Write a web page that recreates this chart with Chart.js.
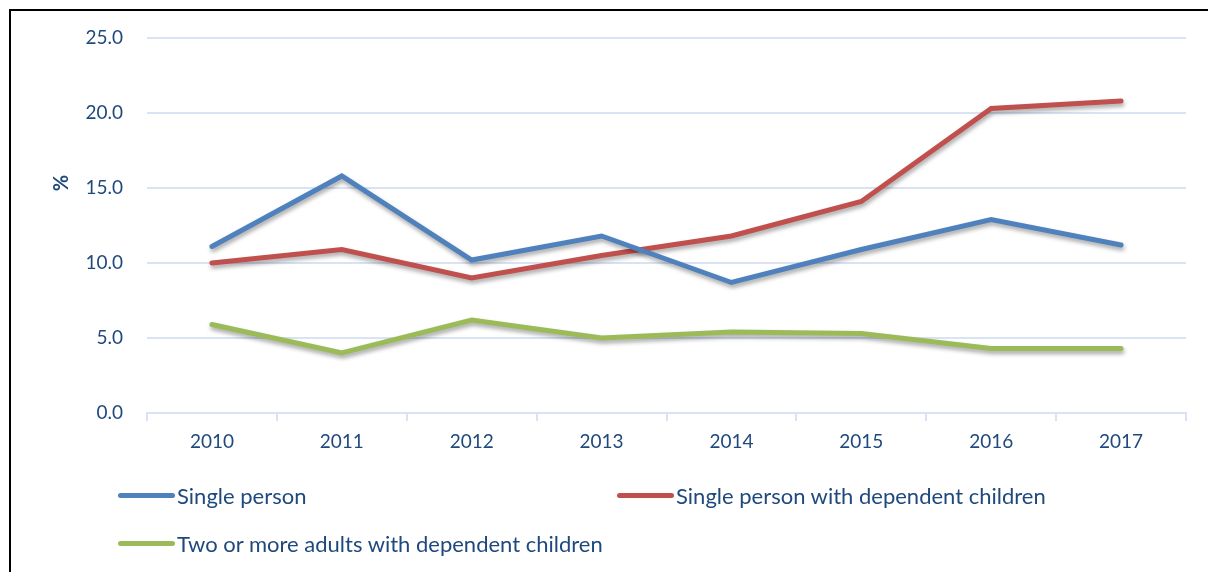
<!DOCTYPE html>
<html lang="en">
<head>
    <meta charset="UTF-8">
    <title>Household types</title>
    <script src="https://cdn.jsdelivr.net/npm/chart.js"></script>
    <style>
        html, body {
            margin: 0;
            padding: 0;
            background: #ffffff;
            font-family: 'Lato', sans-serif;
            color: #1F497D;
        }
        .wrap {
            position: relative;
            width: 1208px;
            height: 572px;
            overflow: hidden;
        }
        .frame {
            position: absolute;
            left: 9px;
            top: 9px;
            width: 1300px;
            height: 700px;
            border: 2px solid #000;
        }
        .chart-box {
            position: absolute;
            left: 0;
            top: 0;
            width: 1208px;
            height: 572px;
        }
        .y-title {
            position: absolute;
            left: 48px;
            top: 172px;
            width: 24px;
            height: 22px;
            line-height: 22px;
            text-align: center;
            font-size: 20px;
            font-weight: bold;
            transform: rotate(-90deg);
        }
        .legend-item {
            position: absolute;
            display: flex;
            align-items: center;
            font-size: 22px;
            height: 26px;
            white-space: nowrap;
        }
        .legend-item .swatch {
            width: 57px;
            height: 5px;
            border-radius: 3px;
            margin-right: 2px;
        }
    </style>
</head>
<body>
    <div class="wrap">
        <div class="frame"></div>
        <div class="chart-box"><canvas id="chart"></canvas></div>
        <div class="y-title">%</div>
        <div id="legend"></div>
    </div>

    <script>
        const years = ["2010", "2011", "2012", "2013", "2014", "2015", "2016", "2017"];
        const singlePerson = [11.1, 15.8, 10.2, 11.8, 8.7, 10.9, 12.9, 11.2];
        const singleWithChildren = [10.0, 10.9, 9.0, 10.5, 11.8, 14.1, 20.3, 20.8];
        const twoAdultsWithChildren = [5.9, 4.0, 6.2, 5.0, 5.4, 5.3, 4.3, 4.3];
        const seriesNames = ["Single person", "Single person with dependent children", "Two or more adults with dependent children"];
        const seriesColors = ["#4F81BD", "#C0504D", "#9BBB59"];
        const yTicks = [0, 5, 10, 15, 20, 25];

        const textColor = "#1F497D";
        const gridColor = "#D9E3F3";

        // soft drop shadow under the lines, like the office chart
        const shadowPlugin = {
            id: 'lineShadow',
            beforeDatasetsDraw(chart) {
                const ctx = chart.ctx;
                ctx.save();
                ctx.shadowColor = "rgba(0,0,0,0.35)";
                ctx.shadowBlur = 4;
                ctx.shadowOffsetX = 1;
                ctx.shadowOffsetY = 3;
            },
            afterDatasetsDraw(chart) {
                chart.ctx.restore();
            }
        };

        const seriesData = [singlePerson, singleWithChildren, twoAdultsWithChildren];

        const ctx = document.getElementById("chart").getContext("2d");
        new Chart(ctx, {
            type: 'line',
            data: {
                labels: years,
                datasets: seriesData.map((d, i) => ({
                    label: seriesNames[i],
                    data: d,
                    borderColor: seriesColors[i],
                    backgroundColor: seriesColors[i],
                    borderWidth: 5,
                    borderCapStyle: 'round',
                    pointRadius: 0,
                    tension: 0,
                    fill: false
                }))
            },
            options: {
                responsive: true,
                maintainAspectRatio: false,
                animation: false,
                layout: {
                    padding: { left: 0, top: 38, right: 22, bottom: 109 }
                },
                plugins: {
                    legend: { display: false },
                    tooltip: { enabled: false }
                },
                scales: {
                    x: {
                        offset: true,
                        afterFit(scale) { scale.height = 50; },
                        grid: {
                            offset: true,
                            drawOnChartArea: false,
                            drawTicks: true,
                            tickLength: 8,
                            color: gridColor,
                            lineWidth: 2
                        },
                        border: { display: true, color: gridColor, width: 2 },
                        ticks: {
                            color: textColor,
                            font: { family: 'Lato', size: 19 },
                            padding: 9,
                            maxRotation: 0
                        }
                    },
                    y: {
                        min: 0,
                        max: 25,
                        afterFit(scale) { scale.width = 147; },
                        afterBuildTicks(scale) {
                            scale.ticks = yTicks.map(v => ({ value: v }));
                        },
                        grid: {
                            drawTicks: false,
                            color: gridColor,
                            lineWidth: 2
                        },
                        border: { display: false },
                        ticks: {
                            color: textColor,
                            font: { family: 'Lato', size: 19 },
                            padding: 24,
                            callback: v => Number(v).toFixed(1)
                        }
                    }
                }
            },
            plugins: [shadowPlugin]
        });

        // legend laid out in two columns like the original
        const legendPos = [[118, 482], [617, 482], [118, 530]];
        const legend = document.getElementById("legend");
        seriesNames.forEach((name, i) => {
            const item = document.createElement("div");
            item.className = "legend-item";
            item.style.left = legendPos[i][0] + "px";
            item.style.top = legendPos[i][1] + "px";
            item.innerHTML = `<span class="swatch" style="background:${seriesColors[i]}"></span><span>${name}</span>`;
            legend.appendChild(item);
        });
    </script>
</body>
</html>
